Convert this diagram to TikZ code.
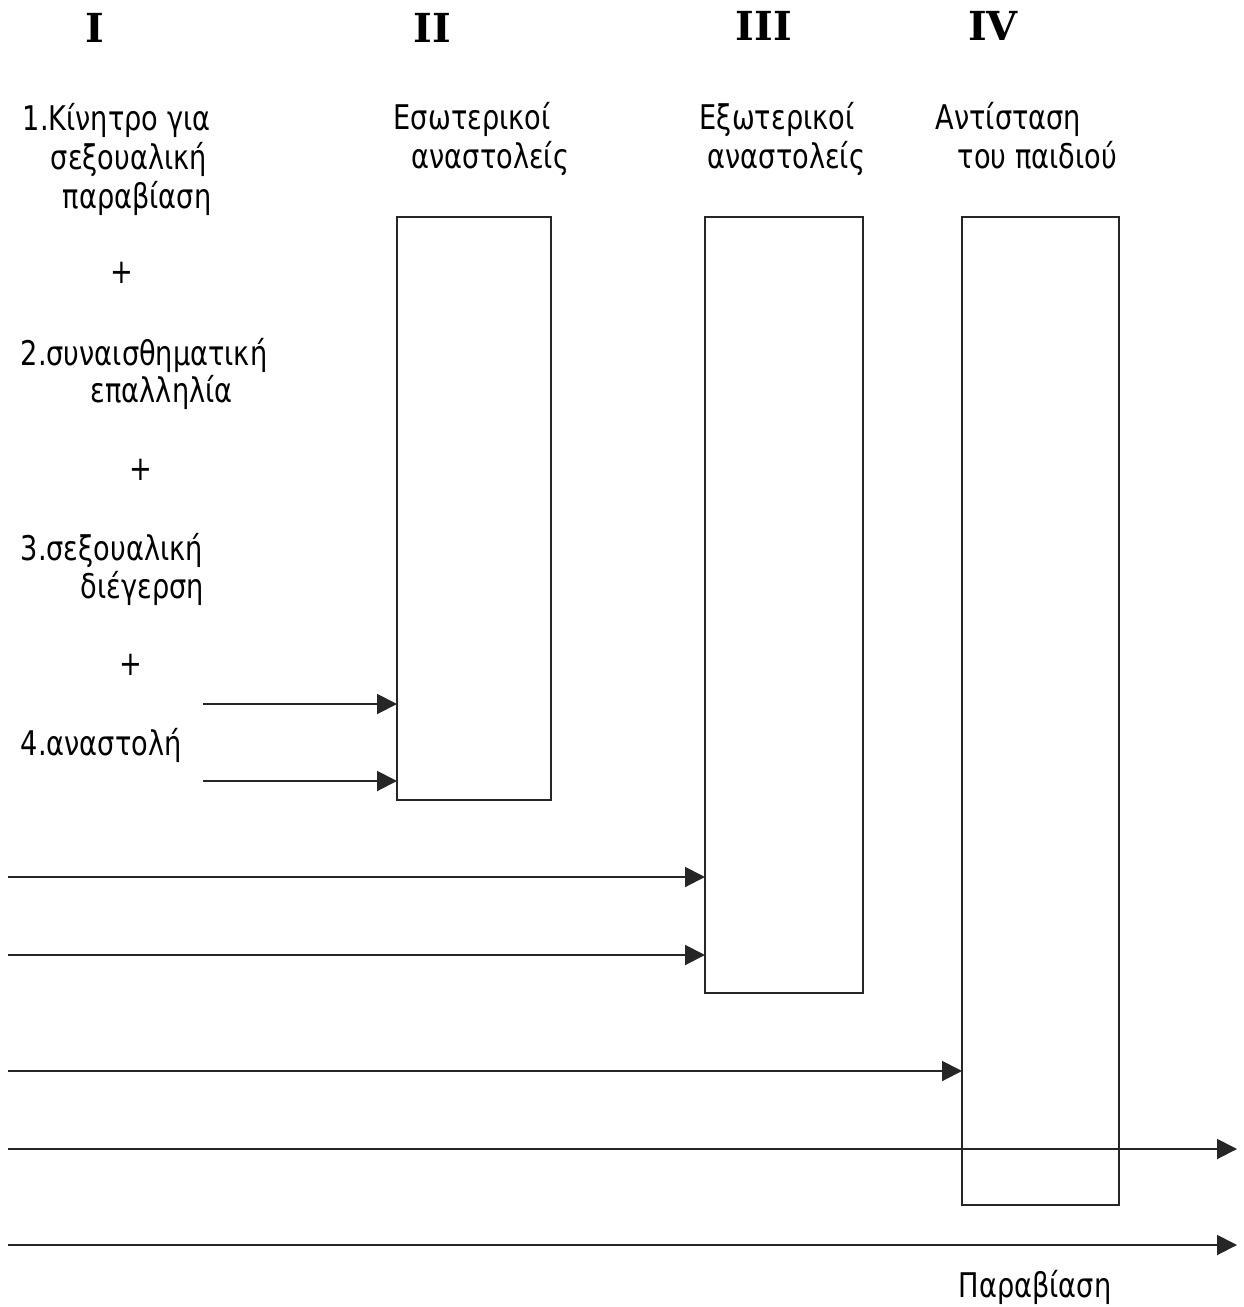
\documentclass[tikz,border=0pt]{standalone}
\usepackage{fontspec}
\setmainfont{DejaVu Sans}[FakeStretch=0.8]
\newfontfamily\numfont{DejaVu Serif}
\usetikzlibrary{arrows.meta,calc,positioning}

\begin{document}
\begin{tikzpicture}[
  x=0.5pt, y=-0.5pt,
  thick,
  stage label/.style={
    anchor=base west,
    inner sep=0pt,
    font=\fontsize{17}{19.5}\selectfont
  },
  plus sign/.style={
    inner sep=0pt,
    font=\fontsize{17}{19.5}\selectfont
  },
  numeral/.style={
    anchor=base,
    inner sep=0pt,
    font=\numfont\bfseries\fontsize{20}{24}\selectfont
  },
  inhibitor box/.style={
    rectangle,
    fill=white!100,
    line width=1pt,
    draw=black!85,
    minimum width=78pt,
    inner sep=0pt,
    outer sep=0pt
  },
  flow/.style={
    draw=black!85,
    line width=1pt,
    -{Triangle[length=10pt,width=10pt]}
  }
  ]
\useasboundingbox (0,0) rectangle (1243,1307);
%\draw[help lines] (0,0) grid (1243,1307);
% Stage numerals
\node [numeral] (num one) at (95,42) {I};
\node [numeral] (num two) at (432,42) {II};
\node [numeral] (num three) at (764,40) {III};
\node [numeral] (num four) at (993,40) {IV};
% Stage I: preconditions
\node [stage label] (motive a) at (22,130) {1.Κίνητρο για};
\node [stage label] (motive b) at (50,169) {σεξουαλική};
\node [stage label] (motive c) at (62,208) {παραβίαση};
\node [plus sign] (plus one) at (122,273) {+};
\node [stage label] (congruence a) at (20,365) {2.συναισθηματική};
\node [stage label] (congruence b) at (90,402) {επαλληλία};
\node [plus sign] (plus two) at (141,470) {+};
\node [stage label] (arousal a) at (20,560) {3.σεξουαλική};
\node [stage label] (arousal b) at (80,598) {διέγερση};
\node [plus sign] (plus three) at (131,665) {+};
\node [stage label] (blockage) at (20,755) {4.αναστολή};
% Stage II: internal inhibitors
\node [stage label] (internal a) at (393,129) {Εσωτερικοί};
\node [stage label] (internal b) at (411,168) {αναστολείς};
\node [inhibitor box, minimum width=77pt, minimum height=291.5pt] (internal box) at (474,508.5) {};
% Stage III: external inhibitors
\node [stage label] (external a) at (699,129) {Εξωτερικοί};
\node [stage label] (external b) at (707,168) {αναστολείς};
\node [inhibitor box, minimum width=79pt, minimum height=388pt] (external box) at (784,605) {};
% Stage IV: resistance of the child
\node [stage label] (resistance a) at (935,129) {Αντίσταση};
\node [stage label] (resistance b) at (957,168) {του παιδιού};
\node [inhibitor box, minimum width=78.5pt, minimum height=494pt] (resistance box) at (1040.5,711) {};
% Outcome
\node [stage label] (abuse) at (958,1297) {Παραβίαση};
% Flows
\coordinate (flow one) at (203,704);
\coordinate (flow two) at (203,781);
\draw [flow] (flow one) -- (flow one -| internal box.west);
\draw [flow] (flow two) -- (flow two -| internal box.west);
\coordinate (flow three) at (8,877);
\coordinate (flow four) at (8,955);
\draw [flow] (flow three) -- (flow three -| external box.west);
\draw [flow] (flow four) -- (flow four -| external box.west);
\coordinate (flow five) at (8,1071);
\draw [flow] (flow five) -- (flow five -| resistance box.west);
\coordinate (flow six) at (8,1149);
\coordinate (flow six end) at (1237,1149);
\draw [flow] (flow six) -- (flow six end);
\coordinate (flow seven) at (8,1245);
\coordinate (flow seven end) at (1237,1245);
\draw [flow] (flow seven) -- (flow seven end);
\end{tikzpicture}
\end{document}
